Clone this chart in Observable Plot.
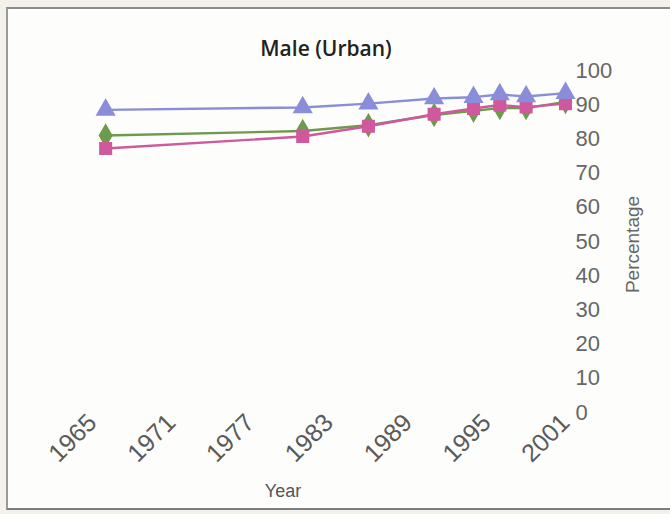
<!DOCTYPE html>
<html>
<head>
<meta charset="utf-8">
<script src="https://cdn.jsdelivr.net/npm/d3@7"></script>
<script src="https://cdn.jsdelivr.net/npm/@observablehq/plot@0.6"></script>
<style>
  html, body { margin: 0; padding: 0; background: #f3f1ea; }
  #wrap { position: relative; width: 670px; height: 514px; overflow: hidden; }
  #frame { position: absolute; left: 6px; top: 7px; width: 680px; height: 499px;
           border-top: 2px solid #8c8c8c; border-left: 2px solid #9a9a9a; border-bottom: 2px solid #7e7e7e;
           background: #fdfdfb; }
  #chart { position: absolute; left: 0; top: 0; }
</style>
</head>
<body>
<div id="wrap"><div id="frame"></div><div id="chart"></div></div>
<script>
const years = [1966, 1981, 1986, 1991, 1994, 1996, 1998, 2001];
const blueVals = [88.5, 89.2, 90.3, 91.8, 92.2, 93.0, 92.4, 93.4];
const greenVals = [81.0, 82.3, 84.0, 87.0, 88.2, 89.0, 89.0, 90.8];
const pinkVals = [77.2, 80.7, 83.7, 87.2, 88.9, 89.9, 89.3, 90.3];
const xTicks = [1965, 1971, 1977, 1983, 1989, 1995, 2001];
const yTicks = [0, 10, 20, 30, 40, 50, 60, 70, 80, 90, 100];
const titleText = "Male (Urban)";
const xLabel = "Year";
const yLabel = "Percentage";

const seriesList = [
  {name: "Series 2", vals: greenVals, color: "#6d9a4c", symbol: "diamond"},
  {name: "Series 3", vals: pinkVals, color: "#d0589c", symbol: "square"},
  {name: "Series 1", vals: blueVals, color: "#8a8ed8", symbol: "triangle"}
];
const rows = seriesList.flatMap(s => years.map((y, i) => ({series: s.name, year: y, value: s.vals[i]})));
const colorDomain = seriesList.map(s => s.name);
const colorRange = seriesList.map(s => s.color);
const symbolRange = seriesList.map(s => s.symbol);

const marks = [];
for (const s of seriesList) {
  const d = rows.filter(r => r.series === s.name);
  marks.push(Plot.line(d, {x: "year", y: "value", stroke: "series", strokeWidth: 2.4}));
  marks.push(Plot.dot(d, {x: "year", y: "value", fill: "series", stroke: "series", symbol: "series", r: 6.5}));
}

const chart = Plot.plot({
  width: 670,
  height: 514,
  marginLeft: 92,
  marginRight: 105,
  marginTop: 70,
  marginBottom: 102,
  style: {background: "transparent", fontFamily: "'Liberation Sans', Arial, sans-serif"},
  x: {domain: [1965, 2001]},
  y: {domain: [0, 100]},
  color: {domain: colorDomain, range: colorRange},
  symbol: {domain: colorDomain, range: symbolRange},
  marks: [
    Plot.axisY({anchor: "right", ticks: yTicks, tickSize: 0, tickPadding: 10, label: null,
                fontSize: 22, fill: "#666", textAnchor: "start"}),
    Plot.axisX({ticks: xTicks, tickFormat: d => String(d), tickSize: 0, tickRotate: -45,
                tickPadding: 6, label: null, fontSize: 25, fill: "#5a5a5a"}),
    ...marks,
    Plot.text([titleText], {frameAnchor: "top", dy: -29, dx: -3, fontSize: 21, fontWeight: 600,
                fill: "#222", fontFamily: "'Open Sans', sans-serif"}),
    Plot.text([yLabel], {frameAnchor: "right", textAnchor: "middle", dx: 67, dy: 3, rotate: -90,
                fontSize: 19, fill: "#666"}),
    Plot.text([xLabel], {frameAnchor: "bottom", textAnchor: "middle", dx: -46, dy: 84, fontSize: 18, fill: "#555",
                fontFamily: "'Liberation Sans Narrow', 'Liberation Sans', sans-serif"})
  ]
});
document.getElementById("chart").appendChild(chart);
</script>
</body>
</html>
